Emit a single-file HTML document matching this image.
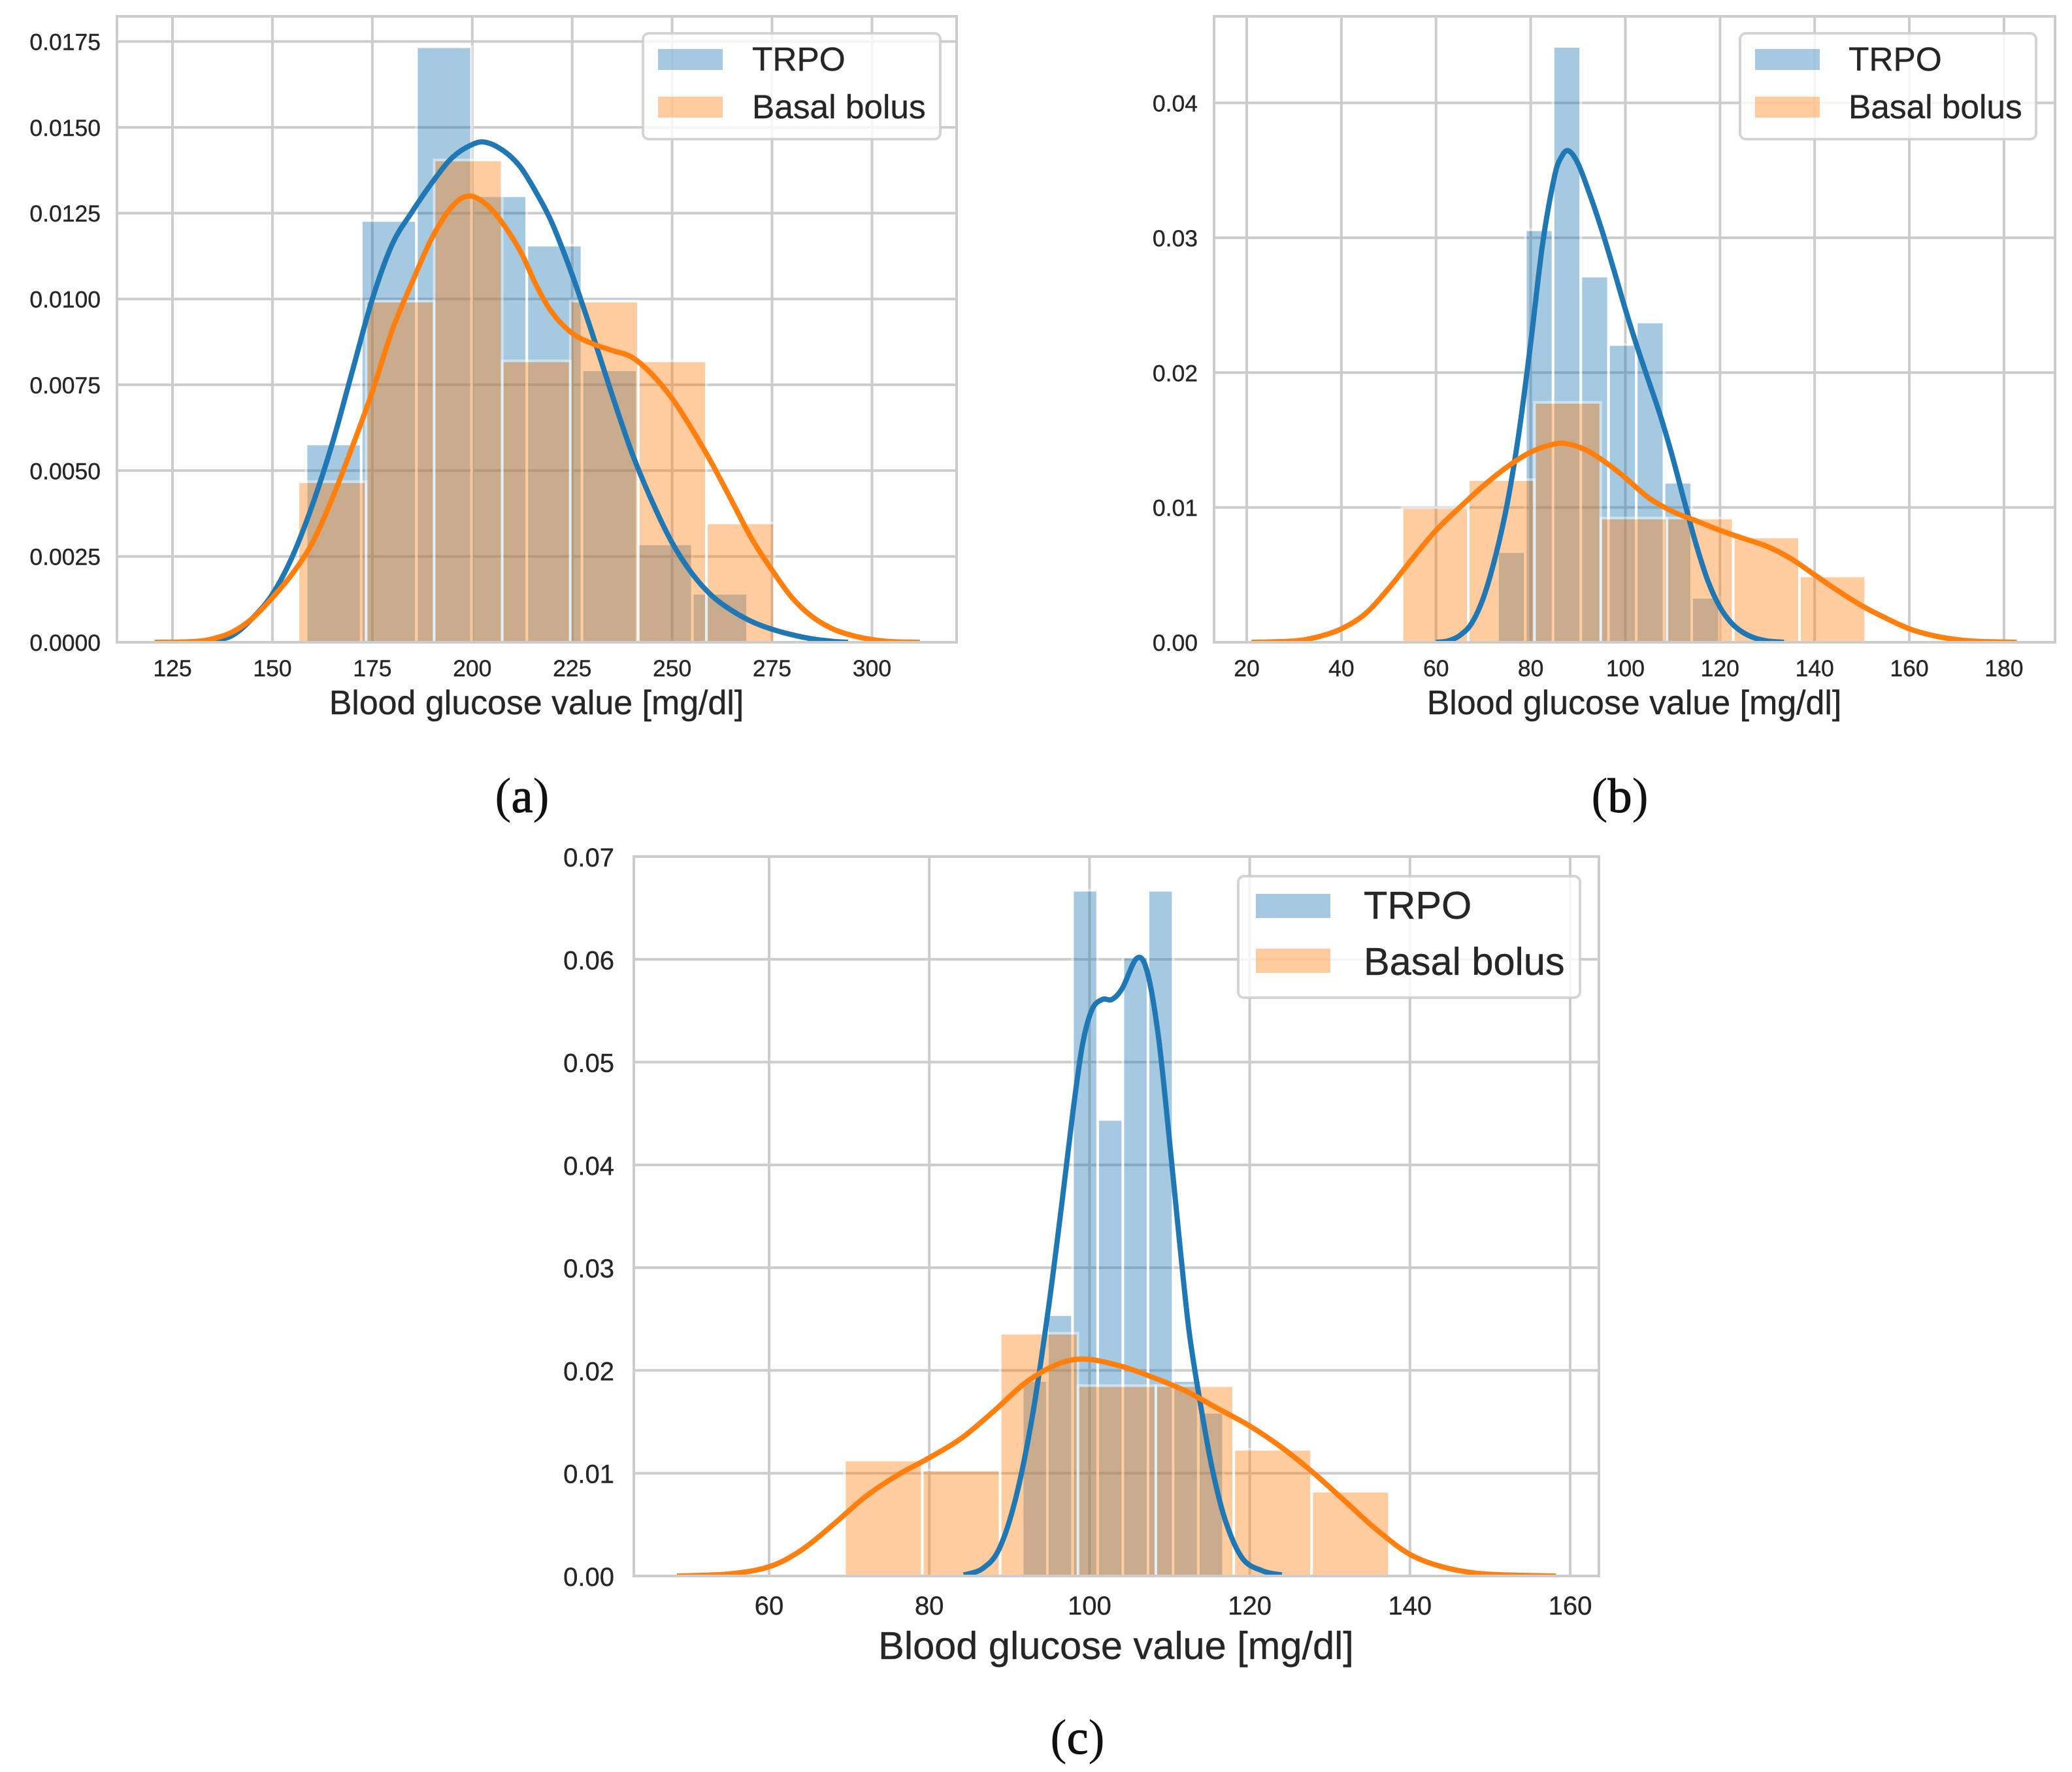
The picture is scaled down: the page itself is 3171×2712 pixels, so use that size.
<!DOCTYPE html>
<html lang="en">
<head>
<meta charset="utf-8">
<title>Blood glucose distributions</title>
<style>
html,body{margin:0;padding:0;background:#fff;}
#figure{display:block;width:3171px;height:2712px;background:#fff;}
text{font-family:"Liberation Sans",Arial,sans-serif;fill:#262626;stroke:#262626;stroke-width:0.4px;}
text.caption{font-family:"Liberation Serif","Times New Roman",serif;fill:#111;stroke:none;}
</style>
</head>
<body>
<svg id="figure" xmlns="http://www.w3.org/2000/svg" width="3171" height="2712" viewBox="0 0 3171 2712"></svg>
<script>
// ---------- Panel (a) data ----------
const aXTicks = [125,150,175,200,225,250,275,300];
const aXTickLabels = ["125","150","175","200","225","250","275","300"];
const aYTicks = [0,0.0025,0.005,0.0075,0.01,0.0125,0.015,0.0175];
const aYTickLabels = ["0.0000","0.0025","0.0050","0.0075","0.0100","0.0125","0.0150","0.0175"];
const aTrpoBinStart = 158.4;
const aTrpoBinWidth = 13.81;
const aTrpoHeights = [0.00574,0.01225,0.01731,0.01297,0.01153,0.0079,0.00283,0.00139];
const aBasalBinStart = 156.4;
const aBasalBinWidth = 17.03;
const aBasalHeights = [0.00464,0.0099,0.01401,0.00816,0.0099,0.00816,0.00344];
const aTrpoKdeX = [130,135,140,145,150,155,160,165,170,175,180,185,190,195,200,203.5,208,212,216,220,225,230,235,240,245,250,255,260,265,270,275,280,285,290,294];
const aTrpoKdeY = [0,0.00005,0.0002,0.0007,0.0014,0.0025,0.004,0.0058,0.0079,0.01,0.0116,0.01255,0.0134,0.01412,0.0145,0.01456,0.0143,0.01385,0.0131,0.0122,0.0107,0.009,0.0072,0.0055,0.0041,0.0029,0.002,0.00135,0.00092,0.0006,0.00038,0.00022,0.0001,0.00003,0];
const aBasalKdeX = [120.5,130,135,140,145,150,155,160,165,170,175,180,185,190,195,199,203,207,212,216,220,225,230,235,240,245,250,255,260,265,270,275,280,285,290,295,300,305,312];
const aBasalKdeY = [0,0.00002,0.0001,0.0003,0.0007,0.0013,0.002,0.0029,0.0042,0.0057,0.0073,0.0091,0.0105,0.0118,0.0127,0.013,0.0128,0.0123,0.0114,0.0104,0.0096,0.009,0.0087,0.0085,0.0083,0.0078,0.0071,0.0062,0.0052,0.0041,0.003,0.0021,0.0013,0.00075,0.0004,0.0002,0.00008,0.00002,0];

// ---------- Panel (b) data ----------
const bXTicks = [20,40,60,80,100,120,140,160,180];
const bXTickLabels = ["20","40","60","80","100","120","140","160","180"];
const bYTicks = [0,0.01,0.02,0.03,0.04];
const bYTickLabels = ["0.00","0.01","0.02","0.03","0.04"];
const bTrpoBinStart = 73;
const bTrpoBinWidth = 5.86;
const bTrpoHeights = [0.00663,0.0305,0.0441,0.02706,0.02199,0.02366,0.01177,0.00324];
const bBasalBinStart = 52.8;
const bBasalBinWidth = 14;
const bBasalHeights = [0.0099,0.01197,0.0177,0.00912,0.00912,0.00772,0.00483];
const bTrpoKdeX = [60,62.5,65,67.5,70,72.5,75,77.5,80,82.5,85,86.5,88,90,92.5,95,97.5,100,102.5,105,107.5,110,112.5,115,117.5,120,122.5,125,127.5,130,133.5];
const bTrpoKdeY = [0,0.0001,0.0005,0.0014,0.0033,0.0063,0.0102,0.0155,0.0222,0.0295,0.0345,0.036,0.03645,0.0355,0.0332,0.0306,0.0277,0.0247,0.0219,0.0193,0.0167,0.0137,0.0104,0.0072,0.0045,0.0026,0.0014,0.0007,0.0003,0.0001,0];
const bBasalKdeX = [21,30,35,40,45,50,55,60,65,70,75,80,85,88,92,96,100,105,110,115,120,125,130,135,140,145,150,155,160,165,170,175,182.7];
const bBasalKdeY = [0,0.0001,0.0004,0.001,0.0021,0.004,0.0062,0.0083,0.01,0.0116,0.013,0.0141,0.0147,0.0147,0.0142,0.0133,0.0122,0.0107,0.0097,0.009,0.0083,0.0077,0.0071,0.0062,0.005,0.0038,0.0027,0.0018,0.001,0.0005,0.0002,0.00006,0];

// ---------- Panel (c) data ----------
const cXTicks = [60,80,100,120,140,160];
const cXTickLabels = ["60","80","100","120","140","160"];
const cYTicks = [0,0.01,0.02,0.03,0.04,0.05,0.06,0.07];
const cYTickLabels = ["0.00","0.01","0.02","0.03","0.04","0.05","0.06","0.07"];
const cTrpoBinStart = 91.6;
const cTrpoBinWidth = 3.14;
const cTrpoHeights = [0.0189,0.0253,0.0666,0.0443,0.0601,0.0666,0.0189,0.0158];
const cBasalBinStart = 69.4;
const cBasalBinWidth = 9.72;
const cBasalHeights = [0.01116,0.0102,0.0235,0.0184,0.0184,0.0122,0.00813];
const cTrpoKdeX = [84.3,86.6,88.7,90.8,92.9,94.9,96.6,97.9,99.1,100.3,101.6,102.8,104.1,105.9,107.2,108.6,109.9,111.2,112.4,113.7,115.3,117,119.1,121.6,124];
const cTrpoKdeY = [0.0001,0.0007,0.0026,0.0076,0.0157,0.0262,0.0366,0.045,0.0516,0.0551,0.0561,0.0561,0.0572,0.0601,0.0588,0.0525,0.043,0.0328,0.024,0.0174,0.0105,0.0053,0.0017,0.0005,0.0001];
const cBasalKdeX = [48.5,55,60,64,68,72,76,80,84,88,92,96,99.5,104,108,112,116,120,124,128,132,136,140,144,148,152,158.2];
const cBasalKdeY = [0,0.0002,0.0009,0.0025,0.005,0.0077,0.0098,0.0115,0.0134,0.016,0.0188,0.0206,0.0211,0.0204,0.0193,0.018,0.0163,0.0146,0.0125,0.01,0.0072,0.0044,0.0021,0.0009,0.0003,0.0001,0];

const legendLabels = ["TRPO","Basal bolus"];
const xAxisTitle = "Blood glucose value [mg/dl]";

// ---------- Drawing ----------
const BLUE = "#1f77b4", ORANGE = "#ff7f0e", GRID = "#cccccc";
const NS = "http://www.w3.org/2000/svg";
const svg = document.getElementById("figure");

function make(tag, attrs, parent){
  const n = document.createElementNS(NS, tag);
  for(const k in attrs){ n.setAttribute(k, attrs[k]); }
  parent.appendChild(n);
  return n;
}
function smoothPath(pts){
  let d = "M" + pts[0][0].toFixed(2) + " " + pts[0][1].toFixed(2);
  for(let i = 0; i < pts.length - 1; i++){
    const p0 = pts[Math.max(i-1,0)], p1 = pts[i], p2 = pts[i+1], p3 = pts[Math.min(i+2,pts.length-1)];
    const c1x = p1[0] + (p2[0]-p0[0])/6, c1y = p1[1] + (p2[1]-p0[1])/6;
    const c2x = p2[0] - (p3[0]-p1[0])/6, c2y = p2[1] - (p3[1]-p1[1])/6;
    d += "C" + c1x.toFixed(2) + " " + c1y.toFixed(2) + " " + c2x.toFixed(2) + " " + c2y.toFixed(2) + " " + p2[0].toFixed(2) + " " + p2[1].toFixed(2);
  }
  return d;
}
function drawBars(group, start, width, heights, color, xs, ys, seriesName){
  heights.forEach(function(h, i){
    const xl = xs(start + i*width), xr = xs(start + (i+1)*width), yt = ys(h), yb = ys(0);
    const fill = make("rect", {x:xl+2, y:yt, width:xr-xl-4, height:Math.max(yb-yt,0), fill:color, "fill-opacity":0.4}, group);
    
    
    const edge = make("rect", {x:xl, y:yt-2, width:xr-xl, height:yb-yt+2, fill:"none", stroke:"#ffffff", "stroke-opacity":0.45, "stroke-width":4}, group);
    
    
  });
}
function drawKde(group, xv, yv, color, xs, ys, name, clipId){
  const pts = xv.map(function(v,i){ return [xs(v), ys(yv[i])]; });
  const line = make("path", {d:smoothPath(pts), fill:"none", stroke:color, "stroke-width":8, "stroke-linejoin":"round", "clip-path":"url(#"+clipId+")"}, group);
  
  
}
function drawPanel(p){
  const g = make("g", {}, svg);
  
  
  const xs = function(v){ return p.xAnchorPx + (v - p.xAnchorVal)*p.xScale; };
  const ys = function(v){ return p.bottom - v*p.yScale; };
  const clipId = "clip-" + p.id;
  const defs = make("defs", {}, g);
  const cp = make("clipPath", {id:clipId}, defs);
  make("rect", {x:p.left, y:p.top, width:p.right-p.left, height:p.bottom-p.top}, cp);

  // grid
  const grid = make("g", {}, g);
  
  
  p.xTicks.forEach(function(v){
    const l = make("line", {x1:xs(v), x2:xs(v), y1:p.top, y2:p.bottom, stroke:GRID, "stroke-width":4}, grid);
    
    
  });
  p.yTicks.forEach(function(v){
    const l = make("line", {x1:p.left, x2:p.right, y1:ys(v), y2:ys(v), stroke:GRID, "stroke-width":4}, grid);
    
    
  });

  // bars
  const bars = make("g", {"clip-path":"url(#"+clipId+")"}, g);
  
  
  drawBars(bars, p.trpoStart, p.trpoWidth, p.trpoHeights, BLUE, xs, ys, 'trpo');
  drawBars(bars, p.basalStart, p.basalWidth, p.basalHeights, ORANGE, xs, ys, 'basal-bolus');

  // KDE curves
  drawKde(g, p.trpoKdeX, p.trpoKdeY, BLUE, xs, ys, 'trpo-kde-curve', clipId);
  drawKde(g, p.basalKdeX, p.basalKdeY, ORANGE, xs, ys, 'basal-bolus-kde-curve', clipId);

  // spines
  const frame = make("rect", {x:p.left, y:p.top, width:p.right-p.left, height:p.bottom-p.top, fill:"none", stroke:GRID, "stroke-width":4}, g);
  
  

  // tick labels
  p.xTicks.forEach(function(v,i){
    const t = make("text", {x:xs(v), y:p.xTickBaseline, "text-anchor":"middle", "font-size":p.tickSize}, g);
    t.textContent = p.xLabels[i];
    
    
  });
  p.yTicks.forEach(function(v,i){
    const t = make("text", {x:p.yTickRight, y:ys(v)+p.yTickDy, "text-anchor":"end", "font-size":p.tickSize}, g);
    t.textContent = p.yLabels[i];
    
    
  });

  // axis title
  const xt = make("text", {x:p.titleX, y:p.titleBaseline, "text-anchor":"middle", "font-size":p.titleSize}, g);
  xt.textContent = xAxisTitle;
  
  

  // legend
  const L = p.legend;
  const lg = make("g", {}, g);
  
  
  const box = make("rect", {x:L.x, y:L.y, width:L.w, height:L.h, rx:9, ry:9, fill:"#ffffff", "fill-opacity":0.8, stroke:GRID, "stroke-opacity":0.85, "stroke-width":4}, lg);
  
  
  [BLUE, ORANGE].forEach(function(c,i){
    const sw = make("rect", {x:L.patchX, y:L.patchY[i], width:L.patchW, height:L.patchH, fill:c, "fill-opacity":0.4}, lg);
    
    
    const tx = make("text", {x:L.textX, y:L.textY[i], "font-size":L.size}, lg);
    tx.textContent = legendLabels[i];
    
    
  });

  // caption
  const cap = make("text", {x:p.capX, y:p.capY, "text-anchor":"middle", "font-size":p.capSize, "class":"caption"}, g);
  cap.textContent = "(";
  const capL = make("tspan", {"font-size":p.capSize - 2, "stroke":"#111", "stroke-width":1.2}, cap);
  capL.textContent = p.id;
  const capR = make("tspan", {}, cap);
  capR.textContent = ")";
  
  
}

drawPanel({
  id:"a", left:179, right:1464, top:25, bottom:983,
  xAnchorVal:125, xAnchorPx:264, xScale:6.117, yScale:52543,
  xTicks:aXTicks, xLabels:aXTickLabels, yTicks:aYTicks, yLabels:aYTickLabels,
  trpoStart:aTrpoBinStart, trpoWidth:aTrpoBinWidth, trpoHeights:aTrpoHeights,
  basalStart:aBasalBinStart, basalWidth:aBasalBinWidth, basalHeights:aBasalHeights,
  trpoKdeX:aTrpoKdeX, trpoKdeY:aTrpoKdeY, basalKdeX:aBasalKdeX, basalKdeY:aBasalKdeY,
  tickSize:35.5, xTickBaseline:1035, yTickRight:154, yTickDy:13,
  titleSize:51.9, titleX:821, titleBaseline:1093,
  legend:{x:984,y:51,w:455,h:162,patchX:1007,patchW:99,patchH:32,patchY:[75,148],textX:1151,textY:[108,181],size:51.4},
  capX:799, capY:1243, capSize:76
});
drawPanel({
  id:"b", left:1858, right:3145, top:25, bottom:983,
  xAnchorVal:20, xAnchorPx:1908, xScale:7.243, yScale:20637,
  xTicks:bXTicks, xLabels:bXTickLabels, yTicks:bYTicks, yLabels:bYTickLabels,
  trpoStart:bTrpoBinStart, trpoWidth:bTrpoBinWidth, trpoHeights:bTrpoHeights,
  basalStart:bBasalBinStart, basalWidth:bBasalBinWidth, basalHeights:bBasalHeights,
  trpoKdeX:bTrpoKdeX, trpoKdeY:bTrpoKdeY, basalKdeX:bBasalKdeX, basalKdeY:bBasalKdeY,
  tickSize:35.5, xTickBaseline:1035, yTickRight:1833, yTickDy:13,
  titleSize:51.9, titleX:2501, titleBaseline:1093,
  legend:{x:2663,y:51,w:453,h:162,patchX:2686,patchW:99,patchH:32,patchY:[75,148],textX:2829,textY:[108,181],size:51.4},
  capX:2479, capY:1243, capSize:76
});
drawPanel({
  id:"c", left:970, right:2447, top:1311, bottom:2412,
  xAnchorVal:60, xAnchorPx:1177, xScale:12.26, yScale:15729,
  xTicks:cXTicks, xLabels:cXTickLabels, yTicks:cYTicks, yLabels:cYTickLabels,
  trpoStart:cTrpoBinStart, trpoWidth:cTrpoBinWidth, trpoHeights:cTrpoHeights,
  basalStart:cBasalBinStart, basalWidth:cBasalBinWidth, basalHeights:cBasalHeights,
  trpoKdeX:cTrpoKdeX, trpoKdeY:cTrpoKdeY, basalKdeX:cBasalKdeX, basalKdeY:cBasalKdeY,
  tickSize:40, xTickBaseline:2471, yTickRight:940, yTickDy:15,
  titleSize:59.5, titleX:1708, titleBaseline:2539,
  legend:{x:1895,y:1341,w:523,h:186,patchX:1922,patchW:114,patchH:37,patchY:[1368,1452],textX:2087,textY:[1406,1492],size:59.5},
  capX:1649, capY:2684, capSize:76
});
</script>
</body>
</html>
